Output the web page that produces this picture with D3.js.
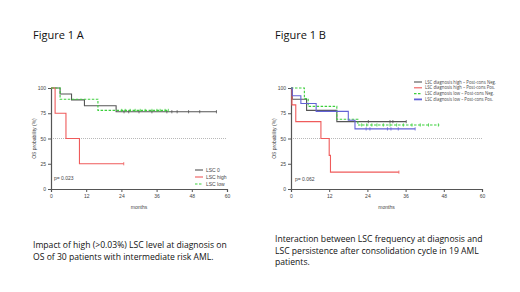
<!DOCTYPE html>
<html>
<head>
<meta charset="utf-8">
<script src="https://cdn.jsdelivr.net/npm/d3@7"></script>
<style>
  body { margin: 0; background: #fff; }
  svg { display: block; }
  .tick text { font-family: "Liberation Sans", Arial, sans-serif; font-size: 5px; fill: #444; }
  .axis path, .axis line { stroke: #555; }
</style>
</head>
<body>
<div id="chart"></div>
<script>
// shared ticks
const monthTicks = [0, 12, 24, 36, 48, 60];
const probTicks = [0, 25, 50, 75, 100];

// Figure 1 A
const aLsc0Times = [0, 3.1, 7.0, 11.4, 22.2, 56.5];
const aLsc0Surv = [100, 94.1, 88.2, 82.4, 76.5, 76.5];
const aLsc0Censor = [24.9, 26.5, 30, 34.4, 39.5, 41.2, 43, 46.9, 50.7, 56.4];
const aHighTimes = [0, 1.4, 5.1, 9.7, 24.8];
const aHighSurv = [100, 75, 50, 25, 25];
const aHighCensor = [24.8];
const aLowTimes = [0, 3.1, 16.0, 40.0];
const aLowSurv = [100, 88.9, 77.8, 77.8];
const aLowCensor = [24.1, 25.3, 27, 28.7, 30.4, 32.1, 34.4, 36.1, 37.2, 38.9, 40];
const aLegend = ["LSC 0", "LSC high", "LSC low"];

// Figure 1 B
const bHighNegTimes = [0, 0.4, 4.9, 14.4, 36.2];
const bHighNegSurv = [100, 88.9, 77.8, 66.7, 66.7];
const bHighNegCensor = [24.3, 31.1, 32, 36.2];
const bHighPosTimes = [0, 0.3, 1.5, 9.4, 12.0, 12.4, 33.9];
const bHighPosSurv = [100, 83.3, 66.7, 50, 33.3, 16.7, 16.7];
const bHighPosCensor = [33.9];
const bLowNegTimes = [0, 4.2, 5.4, 14.4, 21.0, 46.6];
const bLowNegSurv = [100, 89.5, 81.8, 69, 63.4, 63.4];
const bLowNegCensor = [22.2, 23.8, 25.4, 27, 29, 31.1, 33.2, 35.3, 38, 40.6, 43.2, 46.3];
const bLowPosTimes = [0, 0.4, 3.1, 7.9, 18.0, 20.1, 39.0];
const bLowPosSurv = [100, 92.3, 84.6, 76.9, 68, 59.5, 59.5];
const bLowPosCensor = [23.6, 24.8, 30.3, 31.4, 33.7, 39];
const bLegend = [
  "LSC diagnosis high \u2013 Post-cons Neg.",
  "LSC diagnosis high \u2013 Post-cons Pos.",
  "LSC diagnosis low \u2013 Post-cons Neg.",
  "LSC diagnosis low \u2013 Post-cons Pos."
];

const colGray = "#555555", colRed = "#ef5b5b", colGreen = "#3ccf3c", colBlue = "#6262d6";

const svg = d3.select("#chart").append("svg")
  .attr("width", 520).attr("height", 292);

const font = "'Open Sans', 'Liberation Sans', sans-serif";

function panel(opt) {
  const x = d3.scaleLinear().domain([0, 60]).range([opt.x0, opt.x1]);
  const y = d3.scaleLinear().domain([0, 100]).range([189, 88]);
  const g = svg.append("g");

  // 50% reference line
  g.append("line")
    .attr("x1", x(0)).attr("x2", x(60))
    .attr("y1", y(50)).attr("y2", y(50))
    .attr("stroke", "#999").attr("stroke-width", 0.7)
    .attr("stroke-dasharray", "1,1");

  g.append("g").attr("class", "axis")
    .attr("transform", "translate(0," + y(0) + ")")
    .call(d3.axisBottom(x).tickValues(monthTicks).tickSize(3).tickPadding(2))
    .call(s => s.select(".domain").attr("stroke-width", 1.2));
  g.append("g").attr("class", "axis")
    .attr("transform", "translate(" + x(0) + ",0)")
    .call(d3.axisLeft(y).tickValues(probTicks).tickSize(3).tickPadding(2))
    .call(s => s.select(".domain").attr("stroke-width", 1.2));

  g.append("text")
    .attr("transform", "translate(" + (x(0) - 15) + "," + y(50) + ") rotate(-90)")
    .attr("text-anchor", "middle")
    .style("font-family", "'Liberation Sans', sans-serif").style("font-size", "5px").attr("fill", "#444")
    .text("OS probability (%)");
  g.append("text")
    .attr("x", x(30)).attr("y", 209)
    .attr("text-anchor", "middle")
    .style("font-family", "'Liberation Sans', sans-serif").style("font-size", "5px").attr("fill", "#444")
    .text("months");

  const line = d3.line().x(d => x(d[0])).y(d => y(d[1])).curve(d3.curveStepAfter);

  opt.series.forEach(s => {
    const pts = s.times.map((t, i) => [t, s.surv[i]]);
    g.append("path")
      .attr("d", line(pts))
      .attr("fill", "none")
      .attr("stroke", s.color)
      .attr("stroke-width", s.width || 1.1)
      .attr("stroke-dasharray", s.dash || null);
    // censor marks
    g.selectAll(null).data(s.censor).enter().append("line")
      .attr("x1", d => x(d)).attr("x2", d => x(d))
      .attr("y1", d => y(stepAt(s, d)) - 1.6)
      .attr("y2", d => y(stepAt(s, d)) + 1.6)
      .attr("stroke", s.color).attr("stroke-width", 0.8);
  });

  g.append("text")
    .attr("x", opt.pX).attr("y", opt.pY)
    .style("font-family", "'Liberation Sans', sans-serif").style("font-size", "5px").attr("fill", "#444")
    .text(opt.pText);

  // legend
  const lg = g.append("g");
  opt.series.forEach((s, i) => {
    const ly = opt.legY + i * opt.legStep;
    lg.append("line")
      .attr("x1", opt.legX).attr("x2", opt.legX + opt.legLen)
      .attr("y1", ly).attr("y2", ly)
      .attr("stroke", s.color).attr("stroke-width", s.legW || 1.1)
      .attr("stroke-dasharray", s.dash || null);
    const t = lg.append("text")
      .attr("x", opt.legX + opt.legLen + 3).attr("y", ly + 1.6)
      .style("font-family", opt.legFont).style("font-size", opt.legSize + "px").attr("fill", "#444")
      .text(opt.labels[i]);
    if (opt.legWidths) t.attr("textLength", opt.legWidths[i]).attr("lengthAdjust", "spacingAndGlyphs");
  });
}

function stepAt(s, t) {
  let v = s.surv[0];
  s.times.forEach((tt, i) => { if (tt <= t) v = s.surv[i]; });
  return v;
}

panel({
  x0: 51, x1: 227,
  series: [
    { times: aLsc0Times, surv: aLsc0Surv, censor: aLsc0Censor, color: colGray },
    { times: aHighTimes, surv: aHighSurv, censor: aHighCensor, color: colRed },
    { times: aLowTimes, surv: aLowSurv, censor: aLowCensor, color: colGreen, dash: "2.5,1.5" }
  ],
  labels: aLegend,
  legX: 195, legY: 170, legStep: 7, legLen: 8, legFont: "'Liberation Sans', sans-serif", legSize: 5,
  pX: 54, pY: 180, pText: "p= 0.023"
});

panel({
  x0: 291, x1: 482,
  series: [
    { times: bHighNegTimes, surv: bHighNegSurv, censor: bHighNegCensor, color: colGray },
    { times: bHighPosTimes, surv: bHighPosSurv, censor: bHighPosCensor, color: colRed },
    { times: bLowNegTimes, surv: bLowNegSurv, censor: bLowNegCensor, color: colGreen, dash: "2.5,1.5" },
    { times: bLowPosTimes, surv: bLowPosSurv, censor: bLowPosCensor, color: colBlue, legW: 1.8 }
  ],
  labels: bLegend,
  legX: 414, legY: 82, legStep: 5.8, legLen: 8, legFont: "'Open Sans', sans-serif", legSize: 4.6,
  legWidths: [71, 70, 69, 68],
  pX: 295, pY: 180.5, pText: "p= 0.062"
});

// titles and captions
svg.append("text").attr("x", 33).attr("y", 39)
  .style("font-family", font).style("font-size", "11px").attr("fill", "#111").text("Figure 1 A");
svg.append("text").attr("x", 275).attr("y", 39)
  .style("font-family", font).style("font-size", "11px").attr("fill", "#111").text("Figure 1 B");

const capA = ["Impact of high (>0.03%) LSC level at diagnosis on", "OS of 30 patients with intermediate risk AML."];
const capB = ["Interaction between LSC frequency at diagnosis and", "LSC persistence after consolidation cycle in 19 AML", "patients."];
capA.forEach((t, i) => svg.append("text").attr("x", 33).attr("y", 248 + i * 11.7)
  .style("font-family", font).style("font-size", "8.6px").attr("fill", "#111").text(t));
capB.forEach((t, i) => svg.append("text").attr("x", 275).attr("y", 242 + i * 11.7)
  .style("font-family", font).style("font-size", "8.6px").attr("fill", "#111").text(t));
</script>
</body>
</html>
